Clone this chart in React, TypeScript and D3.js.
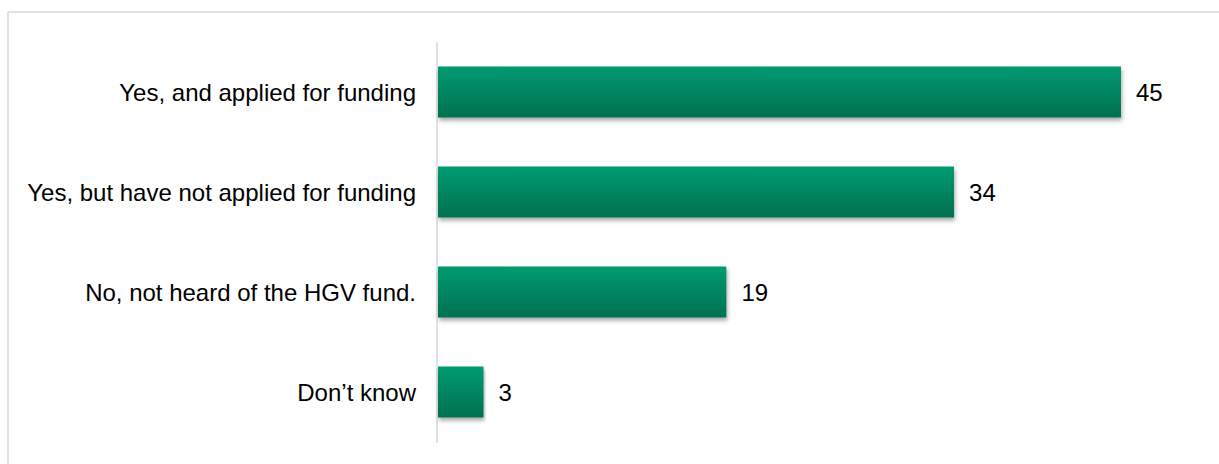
import React from "react";
import * as d3 from "d3";

const categories = [
  "Yes, and applied for funding",
  "Yes, but have not applied for funding",
  "No, not heard of the HGV fund.",
  "Don\u2019t know",
];
const values = [45, 34, 19, 3];

const W = 1219;
const H = 464;

export default function App() {
  const x = d3.scaleLinear().domain([0, 45]).range([438, 1121]);
  const y = d3
    .scaleBand<string>()
    .domain(categories)
    .range([42, 442])
    .paddingInner(0.49)
    .paddingOuter(0.245);
  const font = "'Liberation Sans', Arial, sans-serif";
  return (
    <svg
      width={W}
      height={H}
      style={{ position: "absolute", left: 0, top: 0, background: "#fff" }}
    >
      <defs>
        <linearGradient id="barGrad" x1="0" y1="0" x2="0" y2="1">
          <stop offset="0%" stopColor="#009b72" />
          <stop offset="100%" stopColor="#00704f" />
        </linearGradient>
        <filter id="shadow" x="-5%" y="-20%" width="110%" height="150%">
          <feDropShadow dx="1" dy="3" stdDeviation="2" floodColor="#000" floodOpacity="0.35" />
        </filter>
      </defs>
      <line x1={8} y1={12} x2={W} y2={12} stroke="#d9d9d9" strokeWidth={1.5} />
      <line x1={8} y1={12} x2={8} y2={H} stroke="#d9d9d9" strokeWidth={1.5} />
      <line x1={437} y1={42} x2={437} y2={443} stroke="#d9d9d9" strokeWidth={1.5} />
      {categories.map((c, i) => {
        const by = y(c)!;
        const bh = y.bandwidth();
        const cy = by + bh / 2;
        return (
          <g key={c}>
            <rect
              x={x(0)}
              y={by}
              width={x(values[i]) - x(0)}
              height={bh}
              fill="url(#barGrad)"
              filter="url(#shadow)"
            />
            <text
              x={416}
              y={cy}
              textAnchor="end"
              dominantBaseline="central"
              fontFamily={font}
              fontSize={24}
              fill="#000"
            >
              {c}
            </text>
            <text
              x={x(values[i]) + 15}
              y={cy}
              dominantBaseline="central"
              fontFamily={font}
              fontSize={24}
              fill="#000"
            >
              {values[i]}
            </text>
          </g>
        );
      })}
    </svg>
  );
}
